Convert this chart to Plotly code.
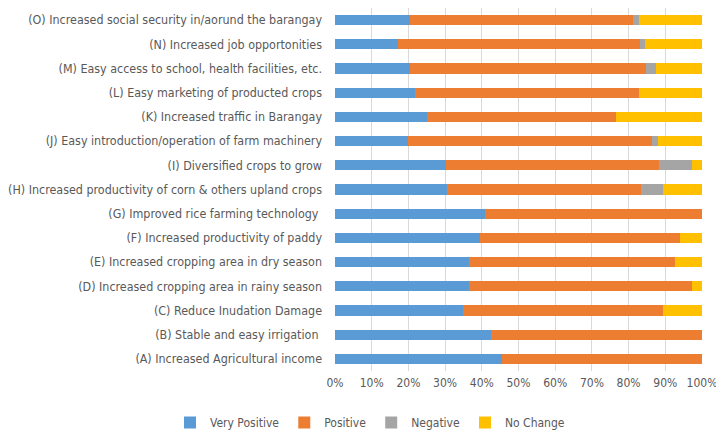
import plotly.graph_objects as go

categories = [
    "(A) Increased Agricultural income",
    "(B) Stable and easy irrigation ",
    "(C) Reduce Inudation Damage",
    "(D) Increased cropping area in rainy season",
    "(E) Increased cropping area in dry season",
    "(F) Increased productivity of paddy",
    "(G) Improved rice farming technology ",
    "(H) Increased productivity of corn & others upland crops",
    "(I) Diversified crops to grow",
    "(J) Easy introduction/operation of farm machinery",
    "(K) Increased traffic in Barangay",
    "(L) Easy marketing of producted crops",
    "(M) Easy access to school, health facilities, etc.",
    "(N) Increased job opportonities",
    "(O) Increased social security in/aorund the barangay",
]

very_positive = [45.6, 42.5, 35.0, 36.5, 36.5, 39.5, 40.9, 30.4, 30.2, 20.0, 25.0, 21.9, 20.4, 17.1, 20.4]
positive      = [54.4, 57.5, 54.5, 60.7, 56.1, 54.5, 59.1, 53.0, 58.2, 66.3, 51.7, 61.0, 64.3, 66.0, 60.7]
negative      = [0.0, 0.0, 0.0, 0.0, 0.0, 0.0, 0.0, 6.1, 8.8, 1.6, 0.0, 0.0, 2.8, 1.4, 1.6]
no_change     = [0.0, 0.0, 10.5, 2.8, 7.4, 6.0, 0.0, 10.5, 2.8, 12.1, 23.3, 17.1, 12.5, 15.5, 17.3]

tick_vals = [0, 10, 20, 30, 40, 50, 60, 70, 80, 90, 100]
tick_text = ["0%", "10%", "20%", "30%", "40%", "50%", "60%", "70%", "80%", "90%", "100%"]

series = [
    ("Very Positive", very_positive, "#5B9BD5"),
    ("Positive", positive, "#ED7D31"),
    ("Negative", negative, "#A5A5A5"),
    ("No Change", no_change, "#FFC000"),
]

fig = go.Figure()
for name, vals, color in series:
    fig.add_trace(go.Bar(
        y=categories, x=vals, name=name, orientation="h",
        marker=dict(color=color, line=dict(width=0)),
    ))

# page body adds an 8px offset, so the figure is 716x426
W, H = 716, 426
ML, MR, MT, MB = 327, 22, 0, 63
PW, PH = W - ML - MR, H - MT - MB
font_family = "Liberation Sans Narrow, DejaVu Sans Condensed, Open Sans, sans-serif"
fig.update_layout(
    template="none",
    barmode="stack",
    bargap=0.58,
    width=W, height=H,
    margin=dict(l=ML, r=MR, t=MT, b=MB, autoexpand=False),
    paper_bgcolor="white", plot_bgcolor="white",
    font=dict(family=font_family, size=12.4, color="#595959"),
    legend=dict(
        orientation="h", xref="paper", yref="paper",
        x=(162 - ML) / PW, xanchor="left",
        y=-(400 - PH) / PH, yanchor="top",
        font=dict(size=12, color="#595959"),
        itemwidth=30, traceorder="normal",
        bgcolor="rgba(0,0,0,0)",
    ),
    xaxis=dict(
        range=[0, 100], tickvals=tick_vals, ticktext=tick_text,
        showgrid=True, gridcolor="#D9D9D9", gridwidth=1, zeroline=False,
        showline=False, ticks="", fixedrange=True, automargin=False,
        tickfont=dict(size=12), ticklabelstandoff=3,
    ),
    yaxis=dict(
        showgrid=False, zeroline=False, showline=False, ticks="",
        ticklabelstandoff=12, fixedrange=True, automargin=False,
    ),
    showlegend=True,
)

fig.write_html("out.html")
